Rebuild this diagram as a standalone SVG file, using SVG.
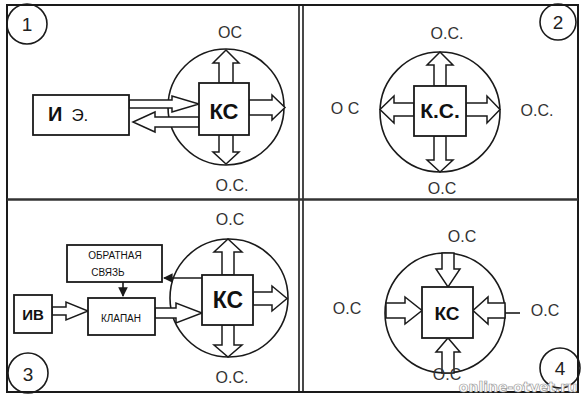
<svg xmlns="http://www.w3.org/2000/svg" width="584" height="400" viewBox="0 0 584 400">
<style>
.ln{fill:none;stroke:#1a1a1a;stroke-width:1.6}
.bx{fill:#fff;stroke:#1a1a1a;stroke-width:1.8}
.ar{fill:#fff;stroke:#1a1a1a;stroke-width:1.5;stroke-linejoin:miter}
.lb{font-family:"Liberation Sans",Arial,sans-serif;font-size:16px;fill:#333;text-anchor:middle}
.nm{font-family:"Liberation Sans",Arial,sans-serif;font-size:19px;fill:#222;text-anchor:middle}
.ks{font-family:"Liberation Sans",Arial,sans-serif;font-weight:bold;fill:#111;text-anchor:middle}
.sm{font-family:"Liberation Sans",Arial,sans-serif;font-size:10px;fill:#111;text-anchor:middle}
</style>
<defs>
<marker id="ah" viewBox="0 0 10 10" refX="9" refY="5" markerWidth="6" markerHeight="6" orient="auto">
<path d="M0,0 L10,5 L0,10 z" fill="#1a1a1a"/>
</marker>
</defs>
<rect width="584" height="400" fill="#fff"/>
<g id="frame" class="ln">
<rect x="7" y="5" width="571" height="387" stroke-width="2"/>
<line x1="299" y1="5" x2="299" y2="392"/>
<line x1="303" y1="5" x2="303" y2="392"/>
<line x1="7" y1="199.5" x2="578" y2="199.5" stroke-width="2.4" stroke="#333"/>
</g>
<g id="numbers">
<circle class="ln" cx="27" cy="24" r="20"/>
<text class="nm" x="27" y="31">1</text>
<circle class="ln" cx="558" cy="22" r="18"/>
<text class="nm" x="558" y="29">2</text>
<circle class="ln" cx="28" cy="373" r="20"/>
<text class="nm" x="28" y="381">3</text>
<circle class="ln" cx="560" cy="368" r="20"/>
<text class="nm" x="560" y="375">4</text>
</g>
<g id="circles" class="ln">
<circle cx="226" cy="107" r="58"/>
<circle cx="440" cy="112" r="60"/>
<circle cx="229" cy="298" r="59"/>
<circle cx="445" cy="313" r="60"/>
</g>
<g id="connectors">
<polygon class="ar" points="219,83 219,63 213,63 226,50 239,63 233,63 233,83"/>
<polygon class="ar" points="219,135 219,152 213,152 226,164 239,152 233,152 233,135"/>
<polygon class="ar" points="249,100 272,100 272,95 285,107.5 272,120 272,115 249,115"/>
<polygon class="ar" points="129,100 172,100 172,96 199,104 172,112 172,108 129,108"/>
<polygon class="ar" points="199,117 155,117 155,112 133,122 155,132 155,127 199,127"/>
<polygon class="ar" points="434,86 434,65 427,65 440,52 453,65 446,65 446,86"/>
<polygon class="ar" points="434,136 434,160 427,160 440,172 453,160 446,160 446,136"/>
<polygon class="ar" points="414,103 394,103 394,96 380,109.5 394,123 394,116 414,116"/>
<polygon class="ar" points="466,103 487,103 487,96 500,109.5 487,123 487,116 466,116"/>
<polygon class="ar" points="222,275 222,252 214,252 228,239 242,252 234,252 234,275"/>
<polygon class="ar" points="222,325 222,345 214,345 228,357 242,345 234,345 234,325"/>
<polygon class="ar" points="253,292 272,292 272,286 287,298.5 272,311 272,305 253,305"/>
<polygon class="ar" points="155,308 176,308 176,303 202,313 176,323 176,318 155,318"/>
<polygon class="ar" points="52,307 66,307 66,302 88,311 66,320 66,315 52,315"/>
<line class="ln" x1="202" y1="278" x2="164" y2="278" marker-end="url(#ah)"/>
<line class="ln" x1="123" y1="282" x2="123" y2="296" marker-end="url(#ah)"/>
<polygon class="ar" points="442,253 442,269 436,269 448,287 460,269 454,269 454,253"/>
<polygon class="ar" points="442,373 442,352 436,352 448,338 460,352 454,352 454,373"/>
<polygon class="ar" points="386,303 405,303 405,297 422,310.5 405,324 405,318 386,318"/>
<polygon class="ar" points="505,303 488,303 488,297 473,310.5 488,324 488,318 505,318"/>
<line class="ln" x1="505" y1="313" x2="520" y2="313" stroke-width="1"/>
</g>
<g id="ie">
<rect class="bx" x="33" y="95" width="96" height="40"/>
<text x="48" y="121" font-family="Liberation Sans, Arial, sans-serif" font-size="20" fill="#111"><tspan font-weight="bold">И</tspan><tspan dx="9" font-size="17">Э.</tspan></text>
</g>
<g id="ks1">
<rect class="bx" x="199" y="83" width="50" height="52"/>
<text class="ks" x="224" y="119" font-size="22">КС</text>
</g>
<g id="ks2">
<rect class="bx" x="414" y="86" width="52" height="50"/>
<text class="ks" x="440" y="118" font-size="21" font-weight="normal">К.С.</text>
</g>
<g id="ks3">
<rect class="bx" x="202" y="275" width="51" height="50"/>
<text class="ks" x="228" y="308" font-size="23" font-weight="normal">КС</text>
</g>
<g id="feedback">
<rect class="bx" x="67" y="245" width="95" height="37"/>
<text class="sm" x="115" y="259">ОБРАТНАЯ</text>
<text class="sm" x="108" y="276">СВЯЗЬ</text>
</g>
<g id="valve">
<rect class="bx" x="88" y="298" width="67" height="37"/>
<text class="sm" x="121" y="322" font-size="11">КЛАПАН</text>
</g>
<g id="iv">
<rect class="bx" x="14" y="295" width="38" height="38"/>
<text class="ks" x="33" y="320" font-size="15">ИВ</text>
</g>
<g id="ks4">
<rect class="bx" x="422" y="287" width="51" height="51"/>
<text class="ks" x="447" y="320" font-size="19">КС</text>
</g>
<g id="labels">
<text class="lb" x="230" y="38">ОС</text>
<text class="lb" x="232" y="191">О.С.</text>
<text class="lb" x="447" y="39">О.С.</text>
<text class="lb" x="345" y="114">О С</text>
<text class="lb" x="537" y="116">О.С.</text>
<text class="lb" x="442" y="194">О.С</text>
<text class="lb" x="230" y="225">О.С</text>
<text class="lb" x="232" y="383">О.С.</text>
<text class="lb" x="462" y="242">О.С</text>
<text class="lb" x="347" y="314">О.С</text>
<text class="lb" x="545" y="316">О.С</text>
<text class="lb" x="447" y="380" font-size="14">О.С</text>
</g>
<text x="518" y="392" font-family="DejaVu Sans, sans-serif" font-size="14" font-weight="bold" fill="#fff" stroke="#9a9a9a" stroke-width="0.7" text-anchor="middle">online-otvet.ru</text>
</svg>
